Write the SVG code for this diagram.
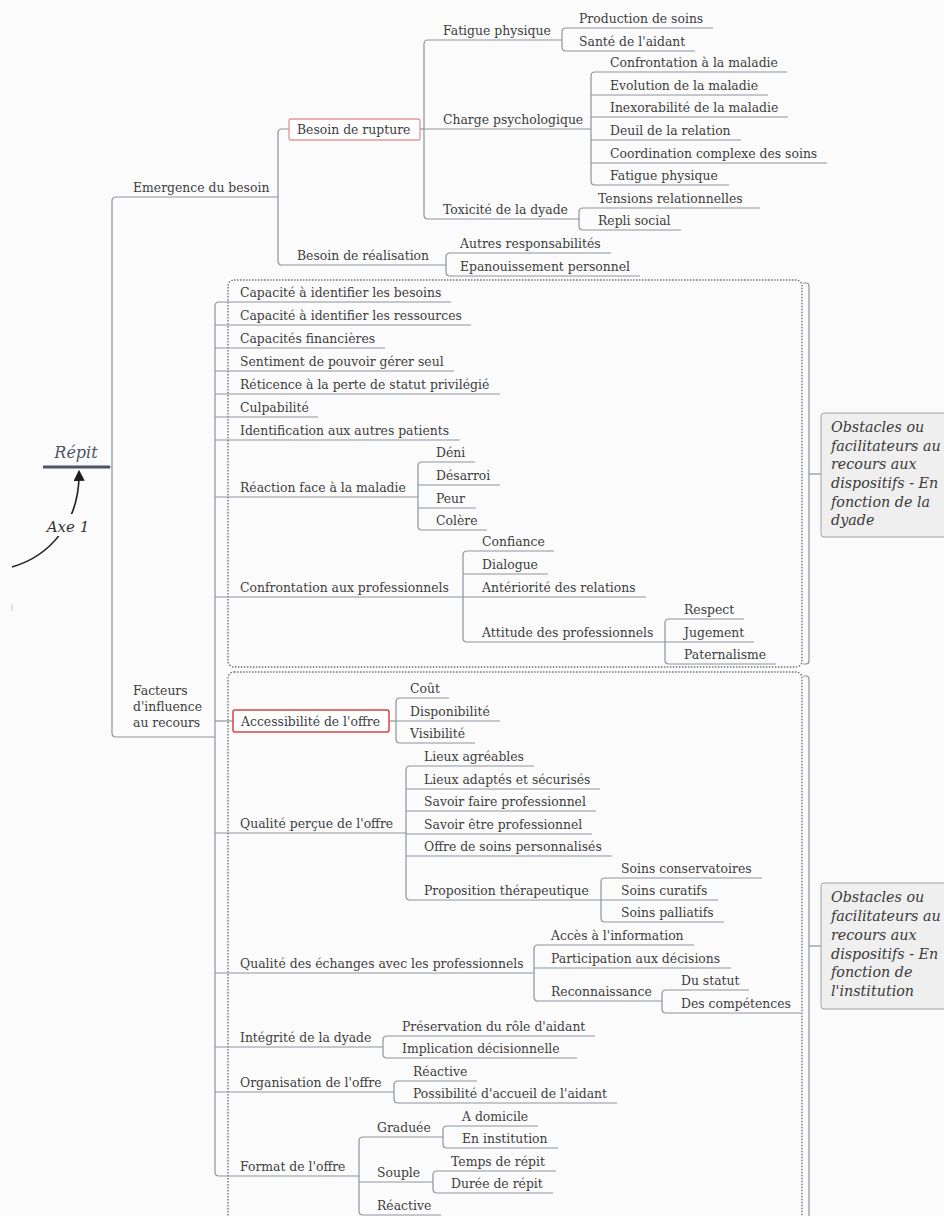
<svg xmlns="http://www.w3.org/2000/svg" width="944" height="1216" viewBox="0 0 944 1216">
<defs>
<style>
.t{font-family:"DejaVu Serif","Liberation Serif",Georgia,serif;font-size:12.4px;fill:#3d3d3d}
.u{stroke:#8e939b;stroke-width:1.2;fill:none}
.c{stroke:#8e939b;stroke-width:1.2;fill:none}
.box{stroke:#6f737a;stroke-width:1.4;stroke-dasharray:1.5 1.5;fill:none}
.note{fill:#efefef;stroke:#a3a3a3;stroke-width:1}
.nt{font-family:"DejaVu Serif","Liberation Serif",serif;font-style:italic;font-size:14.3px;fill:#3a3a3a}
.root{font-family:"DejaVu Serif","Liberation Serif",serif;font-style:italic;font-size:16px;fill:#4a5568}
</style>
<marker id="ah" viewBox="0 0 10 10" refX="8" refY="5" markerWidth="7" markerHeight="7" orient="auto">
<path d="M0,0 L10,5 L0,10 z" fill="#1e1e1e"/>
</marker>
</defs>
<rect width="944" height="1216" fill="#fbfbfb"/>

<!-- dotted grouping boxes -->
<g id="boundaries">
<rect class="box" x="228" y="280" width="574" height="387" rx="6"/>
<rect class="box" x="228" y="672" width="574" height="560" rx="6"/>
</g>

<!-- connectors -->
<g id="connectors">
<path class="c" d="M110,467 H112"/>
<path class="c" d="M116,197 Q112,197 112,201 V733 Q112,737 116,737"/>
<path class="c" d="M289,129 H282 Q278,129 278,133 V261 Q278,265 282,265"/>
<path class="c" d="M420,129 H424"/>
<path class="c" d="M428,40 Q424,40 424,44 V215 Q424,219 428,219"/>
<path class="c" d="M566,28 Q562,28 562,32 V47 Q562,51 566,51"/>
<path class="c" d="M595,72 Q591,72 591,76 V181 Q591,185 595,185"/>
<path class="c" d="M583,208 Q579,208 579,212 V226 Q579,230 583,230"/>
<path class="c" d="M450,253 Q446,253 446,257 V272 Q446,276 450,276"/>
<path class="c" d="M219,302 Q215,302 215,306 V1172 Q215,1176 219,1176"/>
<path class="c" d="M422,462 Q418,462 418,466 V526 Q418,530 422,530"/>
<path class="c" d="M467,551 Q463,551 463,555 V638 Q463,642 467,642"/>
<path class="c" d="M669,619 Q665,619 665,623 V660 Q665,664 669,664"/>
<path class="c" d="M215,721 H233"/>
<path class="c" d="M389,721 H396"/>
<path class="c" d="M400,698 Q396,698 396,702 V739 Q396,743 400,743"/>
<path class="c" d="M410,766 Q406,766 406,770 V896 Q406,900 410,900"/>
<path class="c" d="M605,878 Q601,878 601,882 V918 Q601,922 605,922"/>
<path class="c" d="M538,945 Q534,945 534,949 V997 Q534,1001 538,1001"/>
<path class="c" d="M666,990 Q662,990 662,994 V1009 Q662,1013 666,1013"/>
<path class="c" d="M387,1036 Q383,1036 383,1040 V1054 Q383,1058 387,1058"/>
<path class="c" d="M398,1081 Q394,1081 394,1085 V1099 Q394,1103 398,1103"/>
<path class="c" d="M363,1137 Q359,1137 359,1141 V1211 Q359,1215 363,1215"/>
<path class="c" d="M447,1126 Q443,1126 443,1130 V1144 Q443,1148 447,1148"/>
<path class="c" d="M437,1171 Q433,1171 433,1175 V1189 Q433,1193 437,1193"/>
<path class="c" d="M803,283 H806 Q809,283 809,286 V661 Q809,664 806,664 H803"/>
<path class="c" d="M809,474 H821"/>
<path class="c" d="M803,676 H806 Q809,676 809,679 V1216"/>
<path class="c" d="M809,946 H821"/>
<path d="M12,567 C50,556 80,522 79,472" fill="none" stroke="#1e1e1e" stroke-width="1.6" marker-end="url(#ah)"/>
</g>

<!-- root -->
<g id="n-root">
<text class="root" x="76" y="458" text-anchor="middle">Répit</text>
<path d="M43,467 H110" stroke="#4b5565" stroke-width="3"/>
</g>
<g id="n-axe1">
<rect x="44" y="514" width="48" height="22" fill="#fbfbfb"/>
<text class="root" x="68" y="532" text-anchor="middle" style="fill:#333;font-size:15px">Axe 1</text>
</g>
<path d="M12,604 V611" stroke="#c8c8c8" stroke-width="1"/>

<!-- Emergence du besoin -->
<g id="n-emergence"><text class="t" x="133" y="192">Emergence du besoin</text><path class="u" d="M116,197 H278"/></g>
<g id="n-rupture"><rect x="289" y="119" width="131" height="21" rx="2" fill="#ffffff" stroke="#e79494" stroke-width="1.3"/><text class="t" x="297" y="134">Besoin de rupture</text></g>
<g id="n-fatigue1"><text class="t" x="443" y="35">Fatigue physique</text><path class="u" d="M428,40 H562"/></g>
<g id="n-production"><text class="t" x="579" y="23">Production de soins</text><path class="u" d="M566,28 H713"/></g>
<g id="n-sante"><text class="t" x="579" y="46">Santé de l'aidant</text><path class="u" d="M566,51 H695"/></g>
<g id="n-charge"><text class="t" x="443" y="124">Charge psychologique</text><path class="u" d="M424,129 H591"/></g>
<g id="n-confrontation-maladie"><text class="t" x="610" y="67">Confrontation à la maladie</text><path class="u" d="M595,72 H787"/></g>
<g id="n-evolution"><text class="t" x="610" y="90">Evolution de la maladie</text><path class="u" d="M591,95 H768"/></g>
<g id="n-inexorabilite"><text class="t" x="610" y="112">Inexorabilité de la maladie</text><path class="u" d="M591,117 H788"/></g>
<g id="n-deuil"><text class="t" x="610" y="135">Deuil de la relation</text><path class="u" d="M591,140 H741"/></g>
<g id="n-coordination"><text class="t" x="610" y="158">Coordination complexe des soins</text><path class="u" d="M591,163 H827"/></g>
<g id="n-fatigue2"><text class="t" x="610" y="180">Fatigue physique</text><path class="u" d="M595,185 H729"/></g>
<g id="n-toxicite"><text class="t" x="443" y="214">Toxicité de la dyade</text><path class="u" d="M428,219 H579"/></g>
<g id="n-tensions"><text class="t" x="598" y="203">Tensions relationnelles</text><path class="u" d="M583,208 H760"/></g>
<g id="n-repli"><text class="t" x="598" y="225">Repli social</text><path class="u" d="M583,230 H681"/></g>
<g id="n-realisation"><text class="t" x="297" y="260">Besoin de réalisation</text><path class="u" d="M282,265 H446"/></g>
<g id="n-autres"><text class="t" x="460" y="248">Autres responsabilités</text><path class="u" d="M450,253 H611"/></g>
<g id="n-epanouissement"><text class="t" x="460" y="271">Epanouissement personnel</text><path class="u" d="M450,276 H640"/></g>

<!-- Facteurs -->
<g id="n-facteurs"><text class="t" x="133" y="695">Facteurs</text><text class="t" x="133" y="711">d'influence</text><text class="t" x="133" y="727">au recours</text><path class="u" d="M116,737 H215"/></g>
<g id="n-cap-besoins"><text class="t" x="240" y="297">Capacité à identifier les besoins</text><path class="u" d="M219,302 H451"/></g>
<g id="n-cap-ressources"><text class="t" x="240" y="320">Capacité à identifier les ressources</text><path class="u" d="M215,325 H471"/></g>
<g id="n-cap-fin"><text class="t" x="240" y="343">Capacités financières</text><path class="u" d="M215,348 H385"/></g>
<g id="n-sentiment"><text class="t" x="240" y="366">Sentiment de pouvoir gérer seul</text><path class="u" d="M215,371 H454"/></g>
<g id="n-reticence"><text class="t" x="240" y="389">Réticence à la perte de statut privilégié</text><path class="u" d="M215,394 H500"/></g>
<g id="n-culpabilite"><text class="t" x="240" y="412">Culpabilité</text><path class="u" d="M215,417 H318"/></g>
<g id="n-identification"><text class="t" x="240" y="435">Identification aux autres patients</text><path class="u" d="M215,440 H460"/></g>
<g id="n-reaction"><text class="t" x="240" y="492">Réaction face à la maladie</text><path class="u" d="M215,497 H418"/></g>
<g id="n-deni"><text class="t" x="436" y="457">Déni</text><path class="u" d="M422,462 H475"/></g>
<g id="n-desarroi"><text class="t" x="436" y="480">Désarroi</text><path class="u" d="M418,485 H500"/></g>
<g id="n-peur"><text class="t" x="436" y="503">Peur</text><path class="u" d="M418,508 H476"/></g>
<g id="n-colere"><text class="t" x="436" y="525">Colère</text><path class="u" d="M422,530 H487"/></g>
<g id="n-confrontation-pro"><text class="t" x="240" y="592">Confrontation aux professionnels</text><path class="u" d="M215,597 H463"/></g>
<g id="n-confiance"><text class="t" x="482" y="546">Confiance</text><path class="u" d="M467,551 H554"/></g>
<g id="n-dialogue"><text class="t" x="482" y="569">Dialogue</text><path class="u" d="M463,574 H548"/></g>
<g id="n-anteriorite"><text class="t" x="482" y="592">Antériorité des relations</text><path class="u" d="M463,597 H646"/></g>
<g id="n-attitude"><text class="t" x="482" y="637">Attitude des professionnels</text><path class="u" d="M467,642 H665"/></g>
<g id="n-respect"><text class="t" x="684" y="614">Respect</text><path class="u" d="M669,619 H744"/></g>
<g id="n-jugement"><text class="t" x="684" y="637">Jugement</text><path class="u" d="M665,642 H754"/></g>
<g id="n-paternalisme"><text class="t" x="684" y="659">Paternalisme</text><path class="u" d="M669,664 H776"/></g>

<g id="n-accessibilite"><rect x="233" y="710" width="156" height="22" rx="2" fill="#ffffff" stroke="#d94343" stroke-width="1.5"/><text class="t" x="241" y="726">Accessibilité de l'offre</text></g>
<g id="n-cout"><text class="t" x="410" y="693">Coût</text><path class="u" d="M400,698 H449"/></g>
<g id="n-disponibilite"><text class="t" x="410" y="716">Disponibilité</text><path class="u" d="M396,721 H500"/></g>
<g id="n-visibilite"><text class="t" x="410" y="738">Visibilité</text><path class="u" d="M400,743 H475"/></g>
<g id="n-qualite-percue"><text class="t" x="240" y="828">Qualité perçue de l'offre</text><path class="u" d="M215,833 H406"/></g>
<g id="n-lieux-agreables"><text class="t" x="424" y="761">Lieux agréables</text><path class="u" d="M410,766 H534"/></g>
<g id="n-lieux-adaptes"><text class="t" x="424" y="784">Lieux adaptés et sécurisés</text><path class="u" d="M406,789 H600"/></g>
<g id="n-savoir-faire"><text class="t" x="424" y="806">Savoir faire professionnel</text><path class="u" d="M406,811 H596"/></g>
<g id="n-savoir-etre"><text class="t" x="424" y="829">Savoir être professionnel</text><path class="u" d="M406,834 H592"/></g>
<g id="n-offre-soins"><text class="t" x="424" y="851">Offre de soins personnalisés</text><path class="u" d="M406,856 H612"/></g>
<g id="n-proposition"><text class="t" x="424" y="895">Proposition thérapeutique</text><path class="u" d="M410,900 H601"/></g>
<g id="n-conservatoires"><text class="t" x="621" y="873">Soins conservatoires</text><path class="u" d="M605,878 H762"/></g>
<g id="n-curatifs"><text class="t" x="621" y="895">Soins curatifs</text><path class="u" d="M601,900 H718"/></g>
<g id="n-palliatifs"><text class="t" x="621" y="917">Soins palliatifs</text><path class="u" d="M605,922 H724"/></g>
<g id="n-qualite-echanges"><text class="t" x="240" y="968">Qualité des échanges avec les professionnels</text><path class="u" d="M215,973 H534"/></g>
<g id="n-acces"><text class="t" x="551" y="940">Accès à l'information</text><path class="u" d="M538,945 H694"/></g>
<g id="n-participation"><text class="t" x="551" y="963">Participation aux décisions</text><path class="u" d="M534,968 H731"/></g>
<g id="n-reconnaissance"><text class="t" x="551" y="996">Reconnaissance</text><path class="u" d="M538,1001 H662"/></g>
<g id="n-statut"><text class="t" x="681" y="985">Du statut</text><path class="u" d="M666,990 H749"/></g>
<g id="n-competences"><text class="t" x="681" y="1008">Des compétences</text><path class="u" d="M666,1013 H801"/></g>
<g id="n-integrite"><text class="t" x="240" y="1042">Intégrité de la dyade</text><path class="u" d="M215,1047 H383"/></g>
<g id="n-preservation"><text class="t" x="402" y="1031">Préservation du rôle d'aidant</text><path class="u" d="M387,1036 H595"/></g>
<g id="n-implication"><text class="t" x="402" y="1053">Implication décisionnelle</text><path class="u" d="M387,1058 H577"/></g>
<g id="n-organisation"><text class="t" x="240" y="1087">Organisation de l'offre</text><path class="u" d="M215,1092 H394"/></g>
<g id="n-reactive1"><text class="t" x="413" y="1076">Réactive</text><path class="u" d="M398,1081 H477"/></g>
<g id="n-possibilite"><text class="t" x="413" y="1098">Possibilité d'accueil de l'aidant</text><path class="u" d="M398,1103 H617"/></g>
<g id="n-format"><text class="t" x="240" y="1171">Format de l'offre</text><path class="u" d="M219,1176 H359"/></g>
<g id="n-graduee"><text class="t" x="377" y="1132">Graduée</text><path class="u" d="M363,1137 H443"/></g>
<g id="n-domicile"><text class="t" x="462" y="1121">A domicile</text><path class="u" d="M447,1126 H538"/></g>
<g id="n-institution"><text class="t" x="462" y="1143">En institution</text><path class="u" d="M447,1148 H558"/></g>
<g id="n-souple"><text class="t" x="377" y="1177">Souple</text><path class="u" d="M359,1182 H433"/></g>
<g id="n-temps"><text class="t" x="451" y="1166">Temps de répit</text><path class="u" d="M437,1171 H556"/></g>
<g id="n-duree"><text class="t" x="451" y="1188">Durée de répit</text><path class="u" d="M437,1193 H553"/></g>
<g id="n-reactive2"><text class="t" x="377" y="1210">Réactive</text><path class="u" d="M363,1215 H441"/></g>

<!-- notes -->
<g id="n-note-dyade">
<rect class="note" x="821" y="413" width="140" height="124" rx="3"/>
<text class="nt" x="831" y="432">Obstacles ou</text>
<text class="nt" x="831" y="451">facilitateurs au</text>
<text class="nt" x="831" y="469">recours aux</text>
<text class="nt" x="831" y="488">dispositifs - En</text>
<text class="nt" x="831" y="507">fonction de la</text>
<text class="nt" x="831" y="525">dyade</text>
</g>
<g id="n-note-institution">
<rect class="note" x="821" y="883" width="140" height="126" rx="3"/>
<text class="nt" x="831" y="902">Obstacles ou</text>
<text class="nt" x="831" y="921">facilitateurs au</text>
<text class="nt" x="831" y="940">recours aux</text>
<text class="nt" x="831" y="959">dispositifs - En</text>
<text class="nt" x="831" y="977">fonction de</text>
<text class="nt" x="831" y="996">l'institution</text>
</g>
</svg>
